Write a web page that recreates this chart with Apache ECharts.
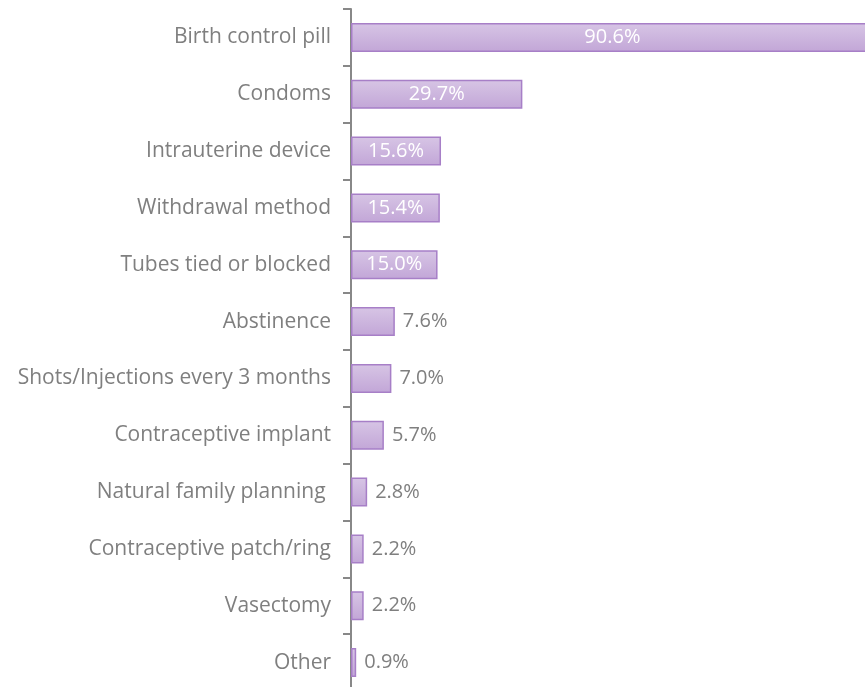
<!DOCTYPE html>
<html>
<head>
<meta charset="utf-8">
<script src="https://cdn.jsdelivr.net/npm/echarts@6/dist/echarts.min.js"></script>
<style>html,body{margin:0;padding:0;background:#fff;}#c{width:865px;height:687px;}</style>
</head>
<body>
<div id="c"></div>
<script>
const categories = ['Birth control pill','Condoms','Intrauterine device','Withdrawal method','Tubes tied or blocked','Abstinence','Shots/Injections every 3 months','Contraceptive implant','Natural family planning ','Contraceptive patch/ring','Vasectomy','Other'];
const values = [90.6, 29.7, 15.6, 15.4, 15.0, 7.6, 7.0, 5.7, 2.8, 2.2, 2.2, 0.9];

const chart = echarts.init(document.getElementById('c'));
const fill = new echarts.graphic.LinearGradient(0,0,0,1,[{offset:0,color:'#D7C5E5'},{offset:1,color:'#C2A6D7'}]);
chart.setOption({
  animation:false,
  grid:{left:351, top:9, width:577, height:682, outerBoundsMode:'none'},
  xAxis:{type:'value', min:0, max:100, show:false, splitLine:{show:false}},
  yAxis:{type:'category', data:categories, inverse:true,
    axisLine:{show:true, lineStyle:{color:'#888888', width:2}},
    axisTick:{show:true, length:8, lineStyle:{color:'#888888', width:2}},
    axisLabel:{color:'#7F7F7F', fontSize:21, fontFamily:'Open Sans', margin:20}
  },
  series:[{type:'bar', barCategoryGap:'49%', clip:false,
    data: values.map(v => ({value:v, label: v >= 10 ? {position:'inside', color:'#FFFFFF'} : {position:'right', color:'#7F7F7F', distance:8}})),
    itemStyle:{color:fill, borderColor:'#A77FC7', borderWidth:1.5},
    label:{show:true, fontSize:20, fontFamily:'Open Sans', formatter: p => p.value.toFixed(1) + '%'}
  }]
});
</script>
</body>
</html>
